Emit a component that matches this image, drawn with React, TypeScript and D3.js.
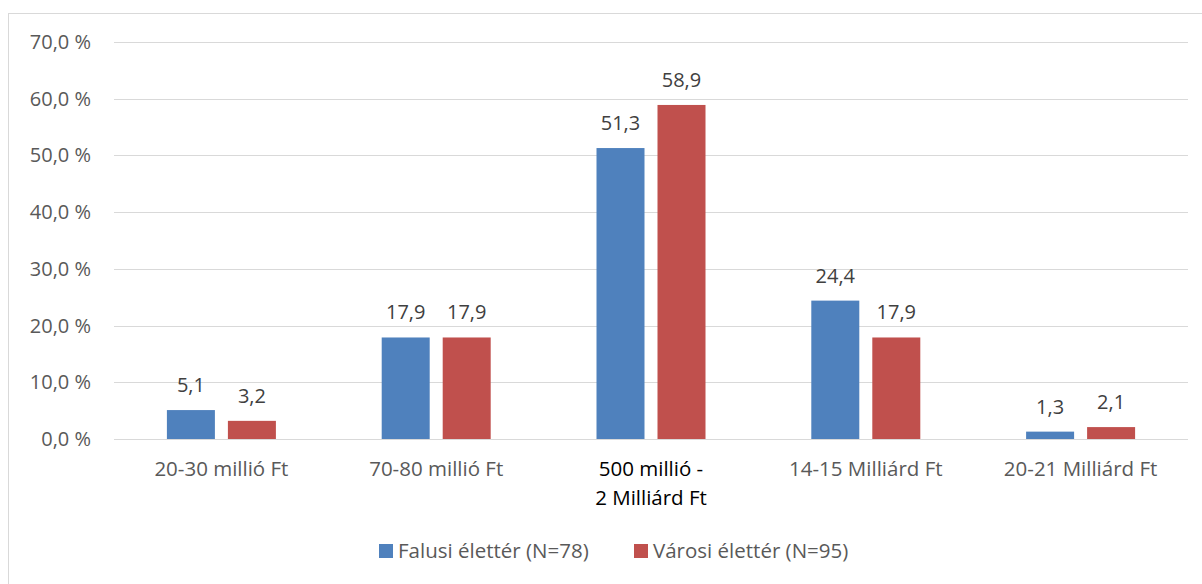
import React from 'react';
import * as d3 from 'd3';

const categories = ['20-30 millió Ft', '70-80 millió Ft', '500 millió -\n2 Milliárd Ft', '14-15 Milliárd Ft', '20-21 Milliárd Ft'];
const falusi = [5.1, 17.9, 51.3, 24.4, 1.3];
const varosi = [3.2, 17.9, 58.9, 17.9, 2.1];
const seriesNames = ['Falusi élettér (N=78)', 'Városi élettér (N=95)'];
const seriesColors = ['#4F81BD', '#C0504D'];
const yTicks = [0, 10, 20, 30, 40, 50, 60, 70];

const W = 1202;
const H = 584;
const FONT = '"Open Sans", sans-serif';

const fmt = (v: number) => v.toFixed(1).replace('.', ',');

export default function App() {
  const plot = { left: 114, right: 1188, top: 42, bottom: 439 };

  const x = d3.scaleBand<number>()
    .domain(categories.map((_, i) => i))
    .range([plot.left, plot.right]);

  const y = d3.scaleLinear().domain([0, 70]).range([plot.bottom, plot.top]);

  const barW = 48;
  const gap = 13;
  const series = [falusi, varosi];

  return (
    <svg width={W} height={H} style={{ position: 'absolute', left: 0, top: 0, background: '#fff' }}>
      <rect x={8.5} y={13.5} width={W + 20} height={H + 20} fill="#fff" stroke="#d9d9d9" strokeWidth={1} />

      {/* gridlines */}
      {yTicks.map(t => (
        <line key={t} x1={plot.left} x2={plot.right} y1={Math.round(y(t)) + 0.5} y2={Math.round(y(t)) + 0.5}
          stroke="#d9d9d9" strokeWidth={1} />
      ))}

      {/* y labels */}
      {yTicks.map(t => (
        <text key={'yl' + t} x={91} y={y(t) + 7} textAnchor="end" fontFamily={FONT} fontSize={20} fill="#595959">
          {fmt(t)} %
        </text>
      ))}

      {/* bars */}
      {series.map((vals, s) => vals.map((v, i) => {
        const cx = (x(i) || 0) + x.bandwidth() / 2;
        const bx = s === 0 ? cx - gap / 2 - barW : cx + gap / 2;
        return (
          <g key={s + '-' + i}>
            <rect x={bx} y={y(v)} width={barW} height={y(0) - y(v)} fill={seriesColors[s]} />
            <text x={bx + barW / 2} y={y(v) - 18} textAnchor="middle" fontFamily={FONT} fontSize={20} fill="#404040">
              {fmt(v)}
            </text>
          </g>
        );
      }))}

      {/* x axis line */}
      <line x1={plot.left} x2={plot.right} y1={plot.bottom + 0.5} y2={plot.bottom + 0.5} stroke="#d9d9d9" strokeWidth={1} />

      {/* category labels */}
      {categories.map((c, i) => {
        const cx = (x(i) || 0) + x.bandwidth() / 2;
        const lines = c.split('\n');
        return (
          <text key={c} x={cx} y={476} textAnchor="middle" fontFamily={FONT} fontSize={20.5}
            fill={lines.length > 1 ? '#000' : '#595959'}>
            {lines.map((l, k) => (
              <tspan key={k} x={cx} dy={k === 0 ? 0 : 29}>{l}</tspan>
            ))}
          </text>
        );
      })}

      {/* legend */}
      {seriesNames.map((n, s) => {
        const lx = s === 0 ? 379 : 634;
        return (
          <g key={n}>
            <rect x={lx} y={544} width={14} height={14} fill={seriesColors[s]} />
            <text x={lx + 19} y={558} fontFamily={FONT} fontSize={20.5} fill="#595959">{n}</text>
          </g>
        );
      })}
    </svg>
  );
}
